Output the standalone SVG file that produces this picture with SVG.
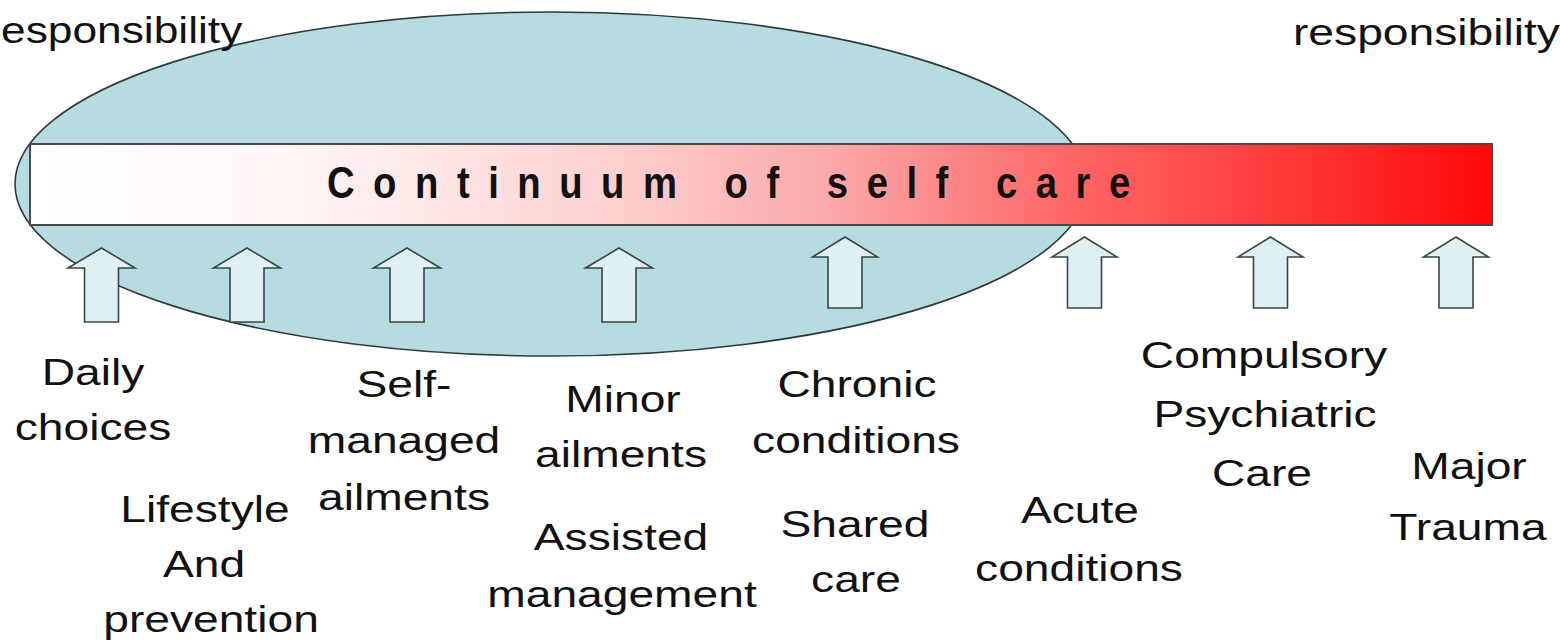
<svg xmlns="http://www.w3.org/2000/svg" width="1560" height="643" viewBox="0 0 1560 643">
<style>
.lbl{font-family:"Liberation Sans",Arial,sans-serif;font-size:37.7px;fill:#111;text-anchor:middle}
.top{font-family:"Liberation Sans",Arial,sans-serif;font-size:37.7px;fill:#111}
.title{font-family:"Liberation Sans",Arial,sans-serif;font-size:45px;font-weight:bold;fill:#141010}
.arr{fill:#dff0f2;stroke:#3a4646;stroke-width:1.6;stroke-linejoin:miter}
</style>
<defs>
<linearGradient id="barGrad" x1="0" y1="0" x2="1" y2="0">
<stop offset="0" stop-color="#ffffff"/>
<stop offset="0.18" stop-color="#fff6f6"/>
<stop offset="0.4" stop-color="#fdd0d0"/>
<stop offset="0.55" stop-color="#faa8a8"/>
<stop offset="0.7" stop-color="#ff6a6a"/>
<stop offset="0.85" stop-color="#ff3c3c"/>
<stop offset="1" stop-color="#ff0808"/>
</linearGradient>
<path id="arrA" class="arr" d="M0,0 L33.5,20 L17,20 L17,74 L-17,74 L-17,20 L-33.5,20 Z"/>
<path id="arrB" class="arr" d="M0,0 L32.5,20 L17,20 L17,71 L-17,71 L-17,20 L-32.5,20 Z"/>
</defs>
<rect x="0" y="0" width="1560" height="643" fill="#ffffff"/>

<g id="ellipse-self-care">
<ellipse cx="551" cy="184" rx="536" ry="172" fill="#b6dce1" stroke="#2e3a3a" stroke-width="1.6"/>
</g>

<g id="continuum-bar">
<rect x="30" y="144" width="1462" height="81" fill="url(#barGrad)" stroke="#4a4a4a" stroke-width="2"/>
<text class="title" transform="translate(327,198) scale(0.85,1)" x="0" y="0" textLength="945" lengthAdjust="spacing">Continuum of self care</text>
</g>

<g id="label-left-responsibility">
<text class="top" transform="translate(1,43) scale(1.225,1)" x="0" y="0" textLength="197" lengthAdjust="spacingAndGlyphs">esponsibility</text>
</g>
<g id="label-right-responsibility">
<text class="top" transform="translate(1293,45) scale(1.225,1)" x="0" y="0">responsibility</text>
</g>

<g id="connectors">
<use href="#arrA" x="101.5" y="248"/>
<use href="#arrA" x="247" y="248"/>
<use href="#arrA" x="407" y="248"/>
<use href="#arrA" x="619" y="248"/>
<use href="#arrB" x="845" y="237"/>
<use href="#arrB" x="1084.5" y="237"/>
<use href="#arrB" x="1270.5" y="237"/>
<use href="#arrB" x="1456" y="237"/>
</g>

<g id="node-daily-choices">
<text class="lbl" transform="translate(93,385) scale(1.225,1)">Daily</text>
<text class="lbl" transform="translate(93,440) scale(1.225,1)">choices</text>
</g>
<g id="node-lifestyle">
<text class="lbl" transform="translate(205,522) scale(1.225,1)">Lifestyle</text>
<text class="lbl" transform="translate(204,577) scale(1.225,1)">And</text>
<text class="lbl" transform="translate(211,632) scale(1.225,1)">prevention</text>
</g>
<g id="node-self-managed">
<text class="lbl" transform="translate(404,397) scale(1.225,1)">Self-</text>
<text class="lbl" transform="translate(404,453) scale(1.225,1)">managed</text>
<text class="lbl" transform="translate(404,510) scale(1.225,1)">ailments</text>
</g>
<g id="node-minor-ailments">
<text class="lbl" transform="translate(623,412) scale(1.225,1)">Minor</text>
<text class="lbl" transform="translate(621,467) scale(1.225,1)">ailments</text>
</g>
<g id="node-assisted-management">
<text class="lbl" transform="translate(621,550) scale(1.225,1)">Assisted</text>
<text class="lbl" transform="translate(622,607) scale(1.225,1)">management</text>
</g>
<g id="node-chronic-conditions">
<text class="lbl" transform="translate(857,397) scale(1.225,1)">Chronic</text>
<text class="lbl" transform="translate(856,453) scale(1.225,1)">conditions</text>
</g>
<g id="node-shared-care">
<text class="lbl" transform="translate(855,537) scale(1.225,1)">Shared</text>
<text class="lbl" transform="translate(856,592) scale(1.225,1)">care</text>
</g>
<g id="node-acute-conditions">
<text class="lbl" transform="translate(1080,523) scale(1.225,1)">Acute</text>
<text class="lbl" transform="translate(1079,581) scale(1.225,1)">conditions</text>
</g>
<g id="node-compulsory">
<text class="lbl" transform="translate(1264,368) scale(1.225,1)">Compulsory</text>
<text class="lbl" transform="translate(1265,427) scale(1.225,1)">Psychiatric</text>
<text class="lbl" transform="translate(1262,486) scale(1.225,1)">Care</text>
</g>
<g id="node-major-trauma">
<text class="lbl" transform="translate(1469,479) scale(1.225,1)">Major</text>
<text class="lbl" transform="translate(1468,540) scale(1.225,1)">Trauma</text>
</g>
</svg>
